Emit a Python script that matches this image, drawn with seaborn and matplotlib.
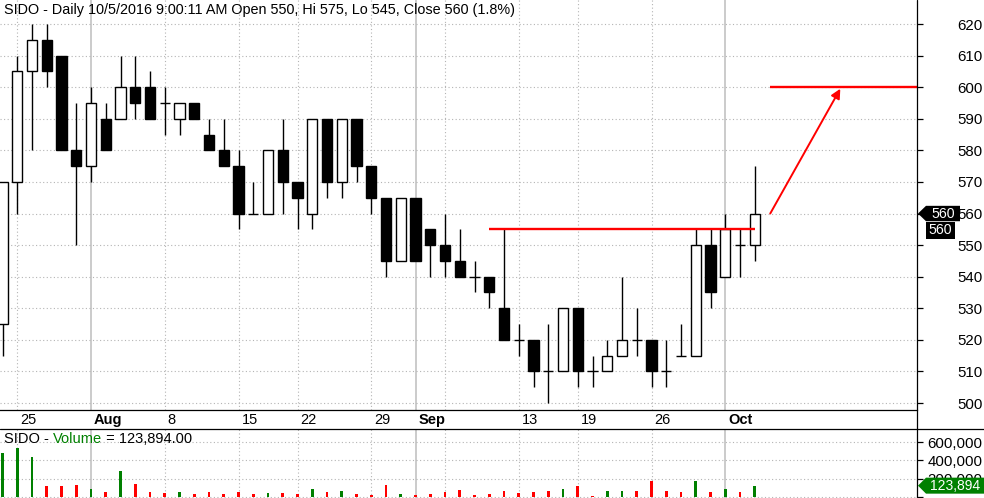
import numpy as np
import pandas as pd
import matplotlib
matplotlib.use("Agg")
import matplotlib.pyplot as plt
import seaborn as sns
from matplotlib.patches import Polygon
from matplotlib.lines import Line2D
from matplotlib.transforms import blended_transform_factory, offset_copy

# ---------------- data ----------------
opens = [525, 570, 605, 615, 610, 580, 575, 590, 590, 600, 600, 595, 590, 595, 585, 580, 575, 560,
         560, 580, 570, 560, 590, 570, 590, 575, 565, 545, 565, 555, 550, 545, 540, 540, 530, 520,
         520, 510, 510, 530, 510, 510, 515, 520, 520, 510, 515, 515, 550, 540, 550, 550]
highs = [570, 610, 620, 620, 610, 595, 600, 595, 610, 610, 605, 600, 595, 595, 590, 590, 580, 570,
         580, 590, 570, 590, 590, 590, 590, 575, 565, 565, 565, 555, 560, 555, 545, 540, 555, 525,
         520, 525, 530, 530, 515, 520, 540, 530, 520, 520, 525, 555, 555, 560, 555, 575]
lows = [515, 560, 580, 600, 580, 550, 570, 580, 590, 590, 590, 585, 585, 590, 580, 575, 555, 560,
        560, 560, 555, 555, 565, 565, 570, 560, 540, 545, 545, 540, 540, 540, 535, 530, 520, 515,
        505, 500, 510, 505, 505, 510, 515, 515, 505, 505, 515, 515, 530, 540, 540, 545]
closes = [570, 605, 615, 605, 580, 575, 595, 580, 600, 595, 590, 595, 595, 590, 580, 575, 560, 560,
          580, 570, 565, 590, 570, 590, 575, 565, 545, 565, 545, 550, 545, 540, 540, 535, 520, 520,
          510, 510, 530, 510, 510, 515, 520, 520, 510, 510, 515, 550, 535, 555, 550, 560]
volumes = [484000, 535000, 440000, 120000, 120000, 131000, 84000, 55000, 287000, 142000, 58000,
           44000, 55000, 33000, 55000, 33000, 55000, 33000, 44000, 44000, 33000, 84000, 55000,
           66000, 33000, 22000, 131000, 33000, 22000, 33000, 55000, 77000, 24000, 33000, 66000,
           40000, 55000, 66000, 87000, 120000, 15000, 66000, 66000, 66000, 175000, 66000, 55000,
           175000, 55000, 87000, 55000, 123894]

tick_idx = [1, 6, 11, 16, 20, 25, 28, 30, 35, 39, 44, 49]
tick_labels = ['25', 'Aug', '8', '15', '22', '29', 'Sep', '', '13', '19', '26', 'Oct']
month_idx = [6, 28, 49]
price_ticks = list(range(500, 621, 10))
volume_ticks = [0, 200000, 400000, 600000]
volume_tick_labels = ['', '200,000', '400,000', '600,000']
resistance_level = 555
resistance_span = [33, 51]
target_level = 600
arrow_from = [52.05, 560]
arrow_to = [56.8, 599.5]
last_price = 560
last_volume = 123894
title = "SIDO - Daily 10/5/2016 9:00:11 AM Open 550, Hi 575, Lo 545, Close 560 (1.8%)"

# ---------------- style ----------------
sns.set_style("white")
plt.rcParams['font.family'] = ['Liberation Sans', 'DejaVu Sans']

W, H = 984, 498
XR = 917
fig = plt.figure(figsize=(W / 100, H / 100), dpi=100)
ax = fig.add_axes([0, (H - 410) / H, XR / W, 410 / H])
axv = fig.add_axes([0, 0, XR / W, (H - 429) / H])

XMIN, XMAX = -0.17, 62.0
GRID = '#b4b4b4'
FS = 10.5
FS_AX = 10.8

idx = np.arange(len(closes))
o = np.array(opens, float)
c = np.array(closes, float)
h = np.array(highs, float)
l = np.array(lows, float)

# gridlines
for a in (ax, axv):
    for t in tick_idx:
        if t in month_idx:
            a.axvline(t, color='#bdbdbd', lw=1.1, zorder=1)
        else:
            a.axvline(t, color=GRID, lw=0.8, ls=(0, (1, 2.2)), zorder=1)
for p in price_ticks:
    ax.axhline(p, color=GRID, lw=0.8, ls=(0, (1, 2.2)), zorder=1)
for v in volume_ticks:
    axv.axhline(v, color=GRID, lw=0.8, ls=(0, (1, 2.2)), zorder=1)

# candles
ax.vlines(idx, l, h, color='black', lw=1.0, zorder=3)
up = c > o
down = c < o
flat = c == o
ax.bar(idx[up], (c - o)[up], bottom=o[up], width=0.7, facecolor='white',
       edgecolor='black', lw=1.0, zorder=4)
ax.bar(idx[down], (o - c)[down], bottom=c[down], width=0.7, facecolor='black',
       edgecolor='black', lw=1.0, zorder=4)
ax.hlines(c[flat], idx[flat] - 0.35, idx[flat] + 0.35, color='black', lw=1.0, zorder=4)

# red annotation lines
ax.hlines(resistance_level, resistance_span[0], resistance_span[1], color='#ff0000', lw=1.7, zorder=6)
ax.hlines(target_level, arrow_from[0], XMAX, color='#ff0000', lw=1.7, zorder=6)
ax.annotate('', xy=tuple(arrow_to), xytext=tuple(arrow_from),
            arrowprops=dict(arrowstyle='-|>', color='#ff0000', lw=1.4,
                            mutation_scale=14, shrinkA=0, shrinkB=0), zorder=6)

ax.set_xlim(XMIN, XMAX)
ax.set_ylim(497.8, 627.6)

# volume bars with seaborn
df = pd.DataFrame({'idx': idx, 'volume': volumes,
                   'dir': np.where(c > o, 'up', 'down')})
sns.barplot(data=df, x='idx', y='volume', hue='dir',
            palette={'up': '#008000', 'down': '#ff0000'}, native_scale=True,
            width=0.18, dodge=False, saturation=1, errorbar=None, legend=False,
            linewidth=0, ax=axv, zorder=3)
axv.set_xlim(XMIN, XMAX)
axv.set_ylim(-11000, 743000)
axv.set_xlabel('')
axv.set_ylabel('')

# axes styling
for a in (ax, axv):
    for s in a.spines.values():
        s.set_visible(False)
    a.yaxis.tick_right()
    a.tick_params(axis='y', direction='out', length=4, width=0.9, color='black',
                  labelsize=FS_AX, labelcolor='black', pad=43)
ax.spines['bottom'].set_visible(True)
ax.spines['bottom'].set_color('black')
ax.spines['bottom'].set_linewidth(0.9)
ax.set_yticks(price_ticks)
ax.set_yticklabels([str(p) for p in price_ticks])
axv.set_yticks(volume_ticks)
axv.set_yticklabels(volume_tick_labels)
for a in (ax, axv):
    for lab in a.get_yticklabels():
        lab.set_horizontalalignment('right')
ax.set_xticks(tick_idx)
ax.tick_params(axis='x', direction='out', length=4, width=0.9, color='black',
               labelbottom=False)
axv.set_xticks([])

# right axis line and pane separator
fig.add_artist(Line2D([XR / W, XR / W], [0, 1], transform=fig.transFigure,
                      color='black', lw=0.9))
fig.add_artist(Line2D([0, 1], [(H - 429) / H] * 2, transform=fig.transFigure,
                      color='black', lw=0.9))

# date labels
btrans = blended_transform_factory(ax.transData, fig.transFigure)
btrans = offset_copy(btrans, fig=fig, x=3, y=0, units='dots')
for t, lab in zip(tick_idx, tick_labels):
    fig.text(t, (H - 420) / H, lab, transform=btrans, ha='left', va='center',
             fontsize=FS, fontweight='bold' if lab in ('Aug', 'Sep', 'Oct') else 'normal',
             color='black')

# titles
fig.text(4 / W, (H - 10) / H, title, ha='left', va='center', fontsize=10.4, color='black')
fig.canvas.draw()
r = fig.canvas.get_renderer()
t1 = fig.text(4 / W, (H - 439) / H, "SIDO - ", ha='left', va='center', fontsize=FS, color='black')
bb1 = t1.get_window_extent(r)
t2 = fig.text(bb1.x1 / W, (H - 439) / H, "Volume", ha='left', va='center', fontsize=FS, color='#008000')
bb2 = t2.get_window_extent(r)
fig.text(bb2.x1 / W, (H - 439) / H, " = 123,894.00", ha='left', va='center', fontsize=FS, color='black')


def tag(y_disp, x_tip, x_left, x_right, half, color, text, fs):
    pts = [(x_tip, y_disp), (x_left, y_disp + half), (x_right, y_disp + half),
           (x_right, y_disp - half), (x_left, y_disp - half)]
    pts = [(x / W, y / H) for x, y in pts]
    fig.add_artist(Polygon(pts, closed=True, facecolor=color, edgecolor='none',
                           transform=fig.transFigure, zorder=10))
    fig.text((x_left + x_right) / 2 / W, y_disp / H, text, ha='center', va='center',
             fontsize=fs, color='white', zorder=11)


y560 = ax.transData.transform((0, last_price))[1]
tag(y560, 918, 926, 960, 7.7, 'black', str(last_price), 10.2)
# second black box under it
y2 = y560 - 16.5
fig.add_artist(Polygon([(926 / W, (y2 + 8.5) / H), (955 / W, (y2 + 8.5) / H),
                        (955 / W, (y2 - 8.5) / H), (926 / W, (y2 - 8.5) / H)],
                       closed=True, facecolor='black', edgecolor='none',
                       transform=fig.transFigure, zorder=10))
fig.text(940.5 / W, y2 / H, str(last_price), ha='center', va='center', fontsize=10.2,
         color='white', zorder=11)

yvol = axv.transData.transform((0, last_volume))[1]
tag(yvol, 918, 926, 984, 8.0, '#008000', f"{last_volume:,}", 10.0)

fig.savefig('out.png', dpi=100)
